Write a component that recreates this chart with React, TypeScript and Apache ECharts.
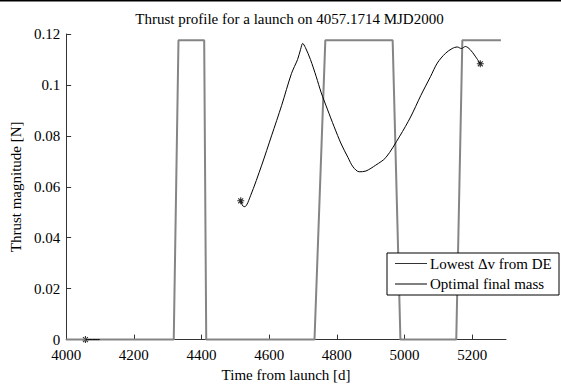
import React, { useEffect, useRef } from "react";
import * as echarts from "echarts";

const titleText = "Thrust profile for a launch on 4057.1714 MJD2000";
const xName = "Time from launch [d]";
const yName = "Thrust magnitude [N]";
const legendNames = ["Lowest \u0394v from DE", "Optimal final mass"];

// Bang-bang thrust profile (gray)
const bangDays = [4000, 4318, 4332, 4408, 4414, 4734, 4766, 4965, 4988, 5153, 5171, 5285];
const bangThrust = [0, 0, 0.1175, 0.1175, 0, 0, 0.1175, 0.1175, 0, 0, 0.1175, 0.1175];

// Smooth thrust profile (black), null = gap
const smoothDays = [4057, 4099, null, 4516, 4522, 4528, 4545, 4578, 4607, 4637, 4666, 4684, 4693, 4699, 4707, 4722, 4739, 4754, 4772, 4792, 4813, 4833, 4848, 4866, 4886, 4915, 4945, 4986, 5018, 5048, 5077, 5097, 5121, 5141, 5156, 5168, 5180, 5194, 5209, 5224];
const smoothThrust = [0, 0, null, 0.0545, 0.0525, 0.0522, 0.0565, 0.0685, 0.08, 0.092, 0.1045, 0.11, 0.114, 0.1163, 0.1147, 0.11, 0.1033, 0.0969, 0.0905, 0.0836, 0.0768, 0.0715, 0.0678, 0.0659, 0.0662, 0.0685, 0.0715, 0.0799, 0.0874, 0.0958, 0.1033, 0.1086, 0.1124, 0.1143, 0.1149, 0.1143, 0.1151, 0.1139, 0.1113, 0.1083];

// End-point markers
const markerDays = [4057, 4516, 5224];
const markerThrust = [0, 0.0545, 0.1083];

const xTickValues = [4000, 4200, 4400, 4600, 4800, 5000, 5200];
const xRange = { min: 4000, max: 5300, interval: 200 };
const yRange = { min: 0, max: 0.12, interval: 0.02 };

const FONT = "Liberation Serif";

export default function App() {
  const ref = useRef<HTMLDivElement>(null);
  useEffect(() => {
    if (!ref.current) return;
    const chart = echarts.init(ref.current, null, { renderer: "svg" });
    const bang = bangDays.map((d, i) => [d, bangThrust[i]]);
    const smooth = smoothDays.map((d, i) => (d === null ? [null, null] : [d, smoothThrust[i]]));
    const markers = markerDays.map((d, i) => [d, markerThrust[i]]);
    const gl = { left: 63, top: 34, width: 443, height: 317 };
    const legX = 387, legY = 253, legW = 172, legH = 42;
    const serif = { fontFamily: FONT, fontSize: 15, color: "#000", fontWeight: "normal" as const };
    chart.setOption({
      animation: false,
      backgroundColor: "#fff",
      textStyle: { fontFamily: FONT, fontSize: 15 },
      title: {
        text: titleText,
        left: gl.left + gl.width / 2,
        textAlign: "center",
        top: 6,
        textStyle: { ...serif },
      },
      grid: { ...gl },
      xAxis: {
        type: "value",
        min: xRange.min,
        max: xRange.max,
        interval: xRange.interval,
        name: xName,
        nameLocation: "middle",
        nameGap: 25,
        nameTextStyle: { ...serif },
        axisLine: { lineStyle: { color: "#333", width: 1 } },
        axisTick: { inside: true, length: 5, customValues: xTickValues, lineStyle: { color: "#333" } },
        axisLabel: {
          ...serif,
          lineHeight: 12,
          margin: 9,
          customValues: xTickValues,
          formatter: (v: number) => String(v),
        },
        splitLine: { show: false },
      },
      yAxis: {
        type: "value",
        min: yRange.min,
        max: yRange.max,
        interval: yRange.interval,
        name: yName,
        nameLocation: "middle",
        nameGap: 40,
        nameRotate: 90,
        nameTextStyle: { ...serif },
        axisLine: { show: true, lineStyle: { color: "#333", width: 1 } },
        axisTick: { show: true, inside: true, length: 5, lineStyle: { color: "#333" } },
        axisLabel: {
          ...serif,
          lineHeight: 12,
          margin: 6,
          formatter: (v: number) => String(+v.toFixed(4)),
        },
        splitLine: { show: false },
      },
      series: [
        {
          name: legendNames[1],
          type: "line",
          data: bang,
          showSymbol: false,
          clip: false,
          lineStyle: { color: "#858585", width: 2 },
          itemStyle: { color: "#858585" },
        },
        {
          name: legendNames[0],
          type: "line",
          data: smooth,
          showSymbol: false,
          smooth: 0.3,
          connectNulls: false,
          clip: false,
          lineStyle: { color: "#000", width: 1 },
          itemStyle: { color: "#000" },
        },
        {
          type: "scatter",
          data: markers,
          clip: false,
          symbol: "path://M5,0 L5,10 M0,5 L10,5 M1.5,1.5 L8.5,8.5 M8.5,1.5 L1.5,8.5",
          symbolSize: 7,
          itemStyle: { color: "rgba(0,0,0,0)", borderColor: "#000", borderWidth: 1.1 },
        },
      ],
      graphic: [
        { type: "rect", shape: { x: 0, y: 0, width: 561, height: 1.5 }, style: { fill: "#000" }, z: 100 },
        {
          type: "rect",
          shape: { x: legX, y: legY, width: legW, height: legH },
          style: { fill: "#fff", stroke: "#000", lineWidth: 1 },
          z: 100,
        },
        {
          type: "line",
          shape: { x1: legX + 8, y1: legY + 10.5, x2: legX + 40, y2: legY + 10.5 },
          style: { stroke: "#333", lineWidth: 1 },
          z: 101,
        },
        {
          type: "text",
          x: legX + 43,
          y: legY + 10.5,
          style: { text: legendNames[0], fontFamily: FONT, fontSize: 15, fill: "#000", verticalAlign: "middle" },
          z: 101,
        },
        {
          type: "line",
          shape: { x1: legX + 8, y1: legY + 31, x2: legX + 40, y2: legY + 31 },
          style: { stroke: "#000", lineWidth: 1 },
          z: 101,
        },
        {
          type: "text",
          x: legX + 43,
          y: legY + 31,
          style: { text: legendNames[1], fontFamily: FONT, fontSize: 15, fill: "#000", verticalAlign: "middle" },
          z: 101,
        },
      ],
    });
    return () => chart.dispose();
  }, []);
  return (
    <div
      ref={ref}
      style={{ position: "fixed", left: 0, top: 0, width: 561, height: 387, background: "#fff" }}
    />
  );
}
